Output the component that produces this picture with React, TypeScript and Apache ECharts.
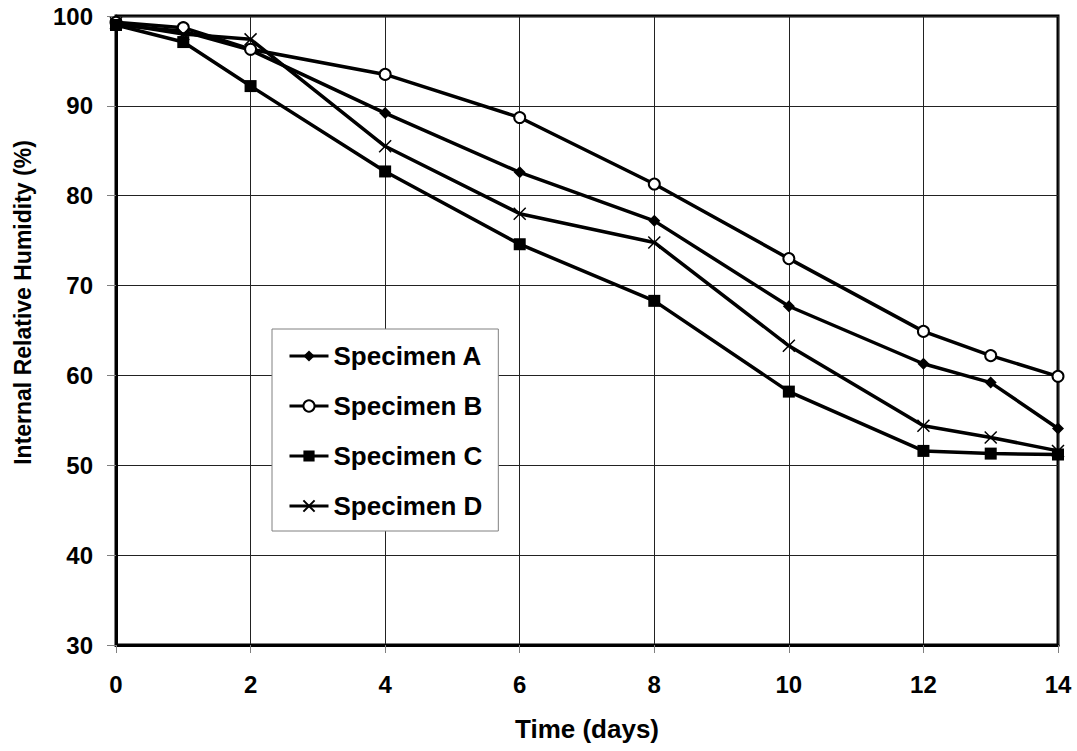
import React, { useEffect, useRef } from "react";
import * as echarts from "echarts";

const days = [0, 1, 2, 4, 6, 8, 10, 12, 13, 14];
const specimenA = [99.0, 98.3, 96.2, 89.2, 82.6, 77.2, 67.7, 61.3, 59.2, 54.1];
const specimenB = [99.3, 98.7, 96.3, 93.5, 88.7, 81.3, 73.0, 64.9, 62.2, 59.9];
const specimenC = [99.0, 97.1, 92.2, 82.7, 74.6, 68.3, 58.2, 51.6, 51.3, 51.2];
const specimenD = [99.2, 98.0, 97.4, 85.5, 78.0, 74.8, 63.3, 54.4, 53.1, 51.6];
const seriesNames = ["Specimen A", "Specimen B", "Specimen C", "Specimen D"];

const FONT = "'Liberation Sans', Arial, sans-serif";

export default function App() {
  const ref = useRef<HTMLDivElement>(null);

  useEffect(() => {
    if (!ref.current) return;
    const chart = echarts.init(ref.current, null, { renderer: "svg" });
    const toPairs = (vals: number[]) => days.map((d, i) => [d, vals[i]]);
    const base = {
      type: "line",
      lineStyle: { color: "#000", width: 3.5 },
      z: 3,
    };
    chart.setOption({
      animation: false,
      backgroundColor: "#fff",
      grid: {
        left: 116,
        right: 19,
        top: 16,
        bottom: 106,
        show: true,
        borderColor: "#000",
        borderWidth: 3,
        backgroundColor: "transparent",
      },
      legend: {
        orient: "vertical",
        left: 272,
        top: 329,
        padding: [14, 16, 12, 16],
        itemWidth: 39,
        itemHeight: 14,
        itemGap: 24,
        backgroundColor: "#fff",
        borderColor: "#808080",
        borderWidth: 1,
        borderRadius: 0,
        data: seriesNames,
        lineStyle: { width: 3 },
        textStyle: {
          fontFamily: FONT,
          fontWeight: "bold",
          fontSize: 26,
          lineHeight: 24,
          color: "#000",
        },
      },
      xAxis: {
        type: "value",
        min: 0,
        max: 14,
        interval: 2,
        name: "Time (days)",
        nameLocation: "middle",
        nameGap: 71,
        nameTextStyle: {
          fontFamily: FONT,
          fontWeight: "bold",
          fontSize: 26,
          color: "#000",
        },
        axisLine: { show: true, lineStyle: { color: "#000", width: 3 } },
        axisTick: {
          show: true,
          length: 8,
          lineStyle: { color: "#808080", width: 1 },
        },
        axisLabel: {
          margin: 27,
          fontFamily: FONT,
          fontWeight: "bold",
          fontSize: 24,
          color: "#000",
        },
        splitLine: { show: true, lineStyle: { color: "#222", width: 1 } },
      },
      yAxis: {
        type: "value",
        min: 30,
        max: 100,
        interval: 10,
        name: "Internal Relative Humidity (%)",
        nameLocation: "middle",
        nameGap: 82,
        nameRotate: 90,
        nameTextStyle: {
          fontFamily: FONT,
          fontWeight: "bold",
          fontSize: 23,
          color: "#000",
          padding: [0, 0, 0, 56],
        },
        axisLine: { show: true, lineStyle: { color: "#000", width: 3 } },
        axisTick: {
          show: true,
          length: 9,
          lineStyle: { color: "#808080", width: 1 },
        },
        axisLabel: {
          margin: 23,
          fontFamily: FONT,
          fontWeight: "bold",
          fontSize: 24,
          color: "#000",
        },
        splitLine: { show: true, lineStyle: { color: "#222", width: 1 } },
      },
      series: [
        {
          ...base,
          name: seriesNames[0],
          data: toPairs(specimenA),
          symbol: "diamond",
          symbolSize: 12,
          itemStyle: { color: "#000" },
        },
        {
          ...base,
          name: seriesNames[1],
          data: toPairs(specimenB),
          symbol: "emptyCircle",
          symbolSize: 11,
          itemStyle: { color: "#000", borderColor: "#000", borderWidth: 1.3 },
        },
        {
          ...base,
          name: seriesNames[2],
          data: toPairs(specimenC),
          symbol: "rect",
          symbolSize: 12,
          itemStyle: { color: "#000" },
        },
        {
          ...base,
          name: seriesNames[3],
          data: toPairs(specimenD),
          symbol: "path://M0,0L10,10M10,0L0,10",
          symbolSize: 12,
          itemStyle: { color: "#000", borderColor: "#000", borderWidth: 1.5 },
        },
      ],
    });
    return () => chart.dispose();
  }, []);

  return (
    <div
      ref={ref}
      style={{ position: "absolute", left: 0, top: 0, width: 1077, height: 751 }}
    />
  );
}
